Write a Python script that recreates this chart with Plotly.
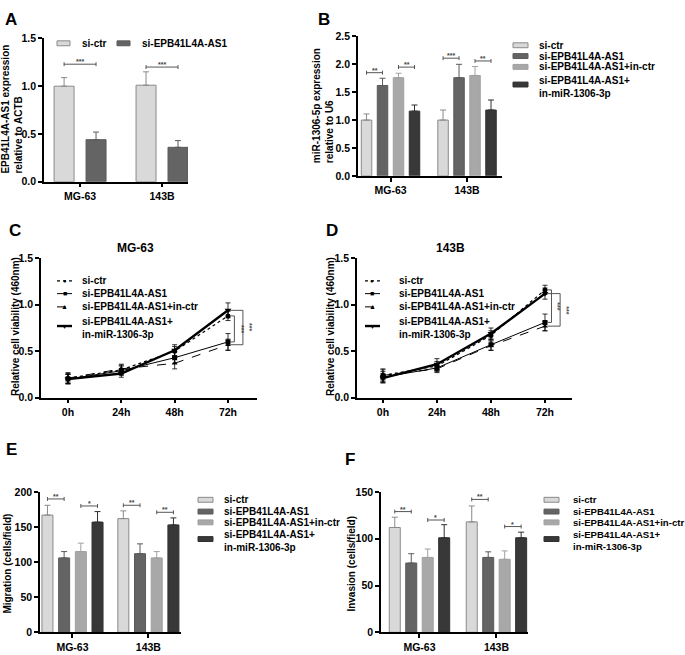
import plotly.graph_objects as go

W, H = 685, 655

# ---------------- data ----------------
groups = ["MG-63", "143B"]
times = ["0h", "24h", "48h", "72h"]
names4 = ["si-ctr", "si-EPB41L4A-AS1", "si-EPB41L4A-AS1+in-ctr",
          "si-EPB41L4A-AS1+<br>in-miR-1306-3p"]
names2 = ["si-ctr", "si-EPB41L4A-AS1"]

# Panel A
a_ctr = [1.00, 1.01]
a_ctr_err = [0.09, 0.14]
a_kd = [0.44, 0.36]
a_kd_err = [0.08, 0.07]

# Panel B
b_ctr = [1.00, 1.00]
b_ctr_err = [0.11, 0.18]
b_kd = [1.62, 1.76]
b_kd_err = [0.13, 0.24]
b_inctr = [1.76, 1.80]
b_inctr_err = [0.08, 0.16]
b_inmir = [1.16, 1.18]
b_inmir_err = [0.11, 0.18]

# Panel C (MG-63 viability)
c_ctr = [0.21, 0.30, 0.50, 0.88]
c_ctr_err = [0.05, 0.05, 0.05, 0.05]
c_kd = [0.20, 0.29, 0.43, 0.60]
c_kd_err = [0.05, 0.05, 0.06, 0.09]
c_inctr = [0.21, 0.31, 0.37, 0.57]
c_inctr_err = [0.06, 0.05, 0.06, 0.06]
c_inmir = [0.20, 0.26, 0.51, 0.94]
c_inmir_err = [0.05, 0.04, 0.06, 0.08]

# Panel D (143B viability)
d_ctr = [0.24, 0.34, 0.67, 1.16]
d_ctr_err = [0.06, 0.05, 0.05, 0.05]
d_kd = [0.22, 0.32, 0.57, 0.81]
d_kd_err = [0.06, 0.04, 0.06, 0.09]
d_inctr = [0.24, 0.31, 0.56, 0.77]
d_inctr_err = [0.07, 0.04, 0.05, 0.05]
d_inmir = [0.21, 0.36, 0.69, 1.12]
d_inmir_err = [0.05, 0.06, 0.06, 0.06]

# Panel E (migration)
e_ctr = [167, 162]
e_ctr_err = [14, 11]
e_kd = [106, 112]
e_kd_err = [9, 14]
e_inctr = [115, 106]
e_inctr_err = [12, 9]
e_inmir = [157, 153]
e_inmir_err = [15, 10]

# Panel F (invasion)
f_ctr = [112, 118]
f_ctr_err = [11, 17]
f_kd = [74, 80]
f_kd_err = [10, 6]
f_inctr = [80, 78]
f_inctr_err = [9, 9]
f_inmir = [101, 101]
f_inmir_err = [14, 6]

# significance: (group index, bar i, bar j, level, label)
sig_A = [(0, 0, 1, 1.23, "***"), (1, 0, 1, 1.20, "***")]
sig_B = [(0, 0, 1, 1.85, "**"), (0, 2, 3, 1.95, "**"),
         (1, 0, 1, 2.11, "***"), (1, 2, 3, 2.06, "**")]
sig_E = [(0, 0, 1, 190, "**"), (0, 2, 3, 180, "*"),
         (1, 0, 1, 181, "**"), (1, 2, 3, 171, "**")]
sig_F = [(0, 0, 1, 129, "**"), (0, 2, 3, 120, "*"),
         (1, 0, 1, 142, "**"), (1, 2, 3, 113, "*")]
# line charts: (series i, series j, label) compared at the last time point
sig_C = [(0, 1, "***"), (3, 2, "***")]
sig_D = [(0, 1, "***"), (3, 2, "***")]

# ---------------- style ----------------
FONT = "Liberation Sans, Arial, Helvetica, sans-serif"
fill4 = ["#d9d9d9", "#646464", "#a8a8a8", "#383838"]
edge4 = ["#8a8a8a", "#5a5a5a", "#a0a0a0", "#303030"]
line_dash = ["dot", "solid", "dash", "solid"]
line_w = [1.2, 1.0, 1.0, 2.4]
line_sym = ["circle", "square", "triangle-up", "triangle-down"]
glyphs = ["\u25cf", "\u25a0", "\u25b2", "\u25bc"]


def px(x):
    return x / W


def py(y):
    return 1 - y / H


fig = go.Figure()
shapes = []
annotations = []

# panel geometry in pixels: (x0, x1, ytop, ybottom)
geo = {
    "A": (44, 188, 33, 179),
    "B": (358, 502, 31, 173),
    "C": (41, 257, 257, 399),
    "D": (357, 572, 257, 399),
    "E": (40, 181, 495, 638),
    "F": (381, 528, 495, 638),
}
axis_ids = {"A": "", "B": "2", "C": "3", "D": "4", "E": "5", "F": "6"}

layout_axes = {}


def set_axes(panel, xrange, yrange, ydtick, yfmt):
    k = axis_ids[panel]
    x0, x1, yt, yb = geo[panel]
    common = dict(showline=True, linecolor="black", linewidth=1.5, ticks="outside",
                  ticklen=4, tickwidth=1.5, tickcolor="black", showgrid=False,
                  zeroline=False, tickfont=dict(size=10.5, family=FONT, color="black", weight="bold"))
    layout_axes["xaxis" + k] = dict(domain=[px(x0), px(x1)], anchor="y" + k,
                                    range=xrange, type="category", **common)
    layout_axes["yaxis" + k] = dict(domain=[py(yb), py(yt)], anchor="x" + k,
                                    range=yrange, dtick=ydtick, tickformat=yfmt, **common)


def bar_panel(panel, series, errs, names, w, step, sigs, yrange):
    k = axis_ids[panel]
    n = len(series)
    start = -((n - 1) * step + w) / 2
    offs = [start + i * step for i in range(n)]
    cols = fill4 if n == 4 else [fill4[0], fill4[1]]
    edges = edge4 if n == 4 else [edge4[0], edge4[1]]
    for i in range(n):
        fig.add_trace(go.Bar(
            x=groups, y=series[i], name=names[i].replace("<br>", ""),
            width=w, offset=offs[i],
            marker=dict(color=cols[i], line=dict(color=edges[i], width=1)),
            error_y=dict(type="data", array=errs[i], arrayminus=[0] * len(groups),
                         symmetric=False, color=edges[i], thickness=1, width=3),
            xaxis="x" + k, yaxis="y" + k, showlegend=False))
    # significance brackets
    x0p, x1p, ytp, ybp = geo[panel]
    tick = (yrange[1] - yrange[0]) * 2.0 / (ybp - ytp)
    for g, i, j, lev, lab in sigs:
        xa = g + offs[i] + w / 2
        xb = g + offs[j] + w / 2
        ln = dict(color="#555555", width=1)
        shapes.append(dict(type="line", xref="x" + k, yref="y" + k, x0=xa, x1=xb, y0=lev, y1=lev, line=ln))
        for xx in (xa, xb):
            shapes.append(dict(type="line", xref="x" + k, yref="y" + k, x0=xx, x1=xx,
                               y0=lev - tick, y1=lev + tick, line=ln))
        annotations.append(dict(x=(xa + xb) / 2, y=lev, xref="x" + k, yref="y" + k, text=lab,
                                showarrow=False, yanchor="bottom", yshift=-3,
                                font=dict(size=7, color="#444444", family=FONT)))
    return offs


def line_panel(panel, series, errs, sigs):
    k = axis_ids[panel]
    for i in range(4):
        fig.add_trace(go.Scatter(
            x=times, y=series[i], name=names4[i].replace("<br>", ""), mode="lines+markers",
            line=dict(color="black", width=line_w[i], dash=line_dash[i]),
            marker=dict(symbol=line_sym[i], size=5 if i != 3 else 6, color="black"),
            error_y=dict(type="data", array=errs[i], color="black", thickness=0.8, width=2.5),
            xaxis="x" + k, yaxis="y" + k, showlegend=False))
    last = len(times) - 1
    vpos = [0.12, 0.28]
    for n, (i, j, lab) in enumerate(sigs):
        xv = last + vpos[n]
        ya, yb = series[i][last], series[j][last]
        ln = dict(color="#555555", width=1)
        shapes.append(dict(type="line", xref="x" + k, yref="y" + k, x0=xv, x1=xv, y0=ya, y1=yb, line=ln))
        for yy in (ya, yb):
            shapes.append(dict(type="line", xref="x" + k, yref="y" + k, x0=last + 0.04, x1=xv,
                               y0=yy, y1=yy, line=ln))
        annotations.append(dict(x=xv, y=(ya + yb) / 2, xref="x" + k, yref="y" + k, text=lab,
                                showarrow=False, xanchor="left", xshift=1, textangle=90,
                                font=dict(size=7, color="#444444", family=FONT)))


# ---------------- panels ----------------
set_axes("A", [-0.44, 1.317], [0, 1.5], 0.5, ".1f")
bar_panel("A", [a_ctr, a_kd], [a_ctr_err, a_kd_err], names2, 0.244, 0.39, sig_A, [0, 1.5])

set_axes("B", [-0.425, 1.457], [0, 2.5], 0.5, ".1f")
bar_panel("B", [b_ctr, b_kd, b_inctr, b_inmir],
          [b_ctr_err, b_kd_err, b_inctr_err, b_inmir_err], names4, 0.137, 0.209, sig_B, [0, 2.5])

set_axes("C", [-0.506, 3.544], [0, 1.5], 0.5, ".1f")
line_panel("C", [c_ctr, c_kd, c_inctr, c_inmir], [c_ctr_err, c_kd_err, c_inctr_err, c_inmir_err], sig_C)

set_axes("D", [-0.48, 3.5], [0, 1.5], 0.5, ".1f")
line_panel("D", [d_ctr, d_kd, d_inctr, d_inmir], [d_ctr_err, d_kd_err, d_inctr_err, d_inmir_err], sig_D)

set_axes("E", [-0.428, 1.43], [0, 200], 50, "d")
bar_panel("E", [e_ctr, e_kd, e_inctr, e_inmir],
          [e_ctr_err, e_kd_err, e_inctr_err, e_inmir_err], names4, 0.145, 0.22, sig_E, [0, 200])

set_axes("F", [-0.5, 1.41], [0, 150], 50, "d")
bar_panel("F", [f_ctr, f_kd, f_inctr, f_inmir],
          [f_ctr_err, f_kd_err, f_inctr_err, f_inmir_err], names4, 0.143, 0.214, sig_F, [0, 150])


# ---------------- legends (drawn manually) ----------------
def txt(x, y, s, size=10, xanchor="left", yanchor="middle", angle=0, color="black"):
    annotations.append(dict(x=px(x), y=py(y), xref="paper", yref="paper", text=s,
                            showarrow=False, xanchor=xanchor, yanchor=yanchor, align="left",
                            textangle=angle,
                            font=dict(size=size, family=FONT, color=color, weight="bold")))


def box(x0, x1, yc, fill, edge, h=5):
    shapes.append(dict(type="rect", xref="paper", yref="paper", x0=px(x0), x1=px(x1),
                       y0=py(yc + h / 2), y1=py(yc - h / 2), fillcolor=fill,
                       line=dict(color=edge, width=1)))


# A legend (horizontal)
box(57, 70, 38, fill4[0], edge4[0])
txt(80, 38, names2[0])
box(117, 130, 38, fill4[1], edge4[1])
txt(140, 38, names2[1])

# B, E, F legends (vertical, bars)
for (bx, tx, rows, boxrow, fs) in [(513, 537, [40, 51, 62, 74], 80, 10),
                                   (198, 222, [503, 515, 526, 537], 543, 10),
                                   (544, 571, [503, 515, 526, 537], 543, 9.6)]:
    for i in range(4):
        yb = rows[i] if i < 3 else boxrow
        box(bx, bx + 15, yb, fill4[i], edge4[i])
        if i < 3:
            txt(tx, rows[i], names4[i], size=fs)
        else:
            txt(tx, rows[i] - 6, names4[i], size=fs, yanchor="top")

# C, D legends (lines)
for (lx, tx) in [(57, 80), (365, 397)]:
    rows = [280, 293, 306.5, 320]
    keyrows = [280, 293, 306.5, 326]
    for i in range(4):
        shapes.append(dict(type="line", xref="paper", yref="paper",
                           x0=px(lx), x1=px(lx + 15), y0=py(keyrows[i]), y1=py(keyrows[i]),
                           line=dict(color="black", width=line_w[i], dash=line_dash[i])))
        txt(lx + 7.5, keyrows[i], glyphs[i], size=6 if i == 0 else 7, xanchor="center")
        if i < 3:
            txt(tx, rows[i], names4[i])
        else:
            txt(tx, rows[i] - 6, names4[i], yanchor="top")

# Panel titles for C and D
txt(135, 247, "MG-63", size=12, xanchor="center")
txt(450, 247, "143B", size=12, xanchor="center")

# Y-axis titles
txt(12.5, 105, "EPB41L4A-AS1 expression<br>relative to ACTB", size=10, xanchor="center", angle=-90)
txt(323, 102, "miR-1306-5p expression<br>relative to U6", size=10, xanchor="center", angle=-90)
txt(15, 327, "Relative cell viability (460nm)", size=10, xanchor="center", angle=-90)
txt(330, 327, "Relative cell viability (460nm)", size=10, xanchor="center", angle=-90)
txt(8, 568, "Migration (cells/field)", size=10, xanchor="center", angle=-90)
txt(352, 568, "Invasion (cells/field)", size=10, xanchor="center", angle=-90)

# Panel letters
for lab, x, y in [("A", 3, 2), ("B", 316, 2), ("C", 7, 217), ("D", 324, 217), ("E", 4, 440), ("F", 343, 450)]:
    txt(x, y, lab, size=17, yanchor="top")

fig.update_layout(
    width=W, height=H, margin=dict(l=0, r=0, t=0, b=0),
    paper_bgcolor="white", plot_bgcolor="white",
    font=dict(family=FONT, size=10, color="black", weight="bold"),
    barmode="overlay", showlegend=False,
    shapes=shapes, annotations=annotations,
    **layout_axes,
)

fig.write_html("out.html", config={"displayModeBar": False},
               post_script="document.body.style.margin='0';document.body.style.overflow='hidden';")
